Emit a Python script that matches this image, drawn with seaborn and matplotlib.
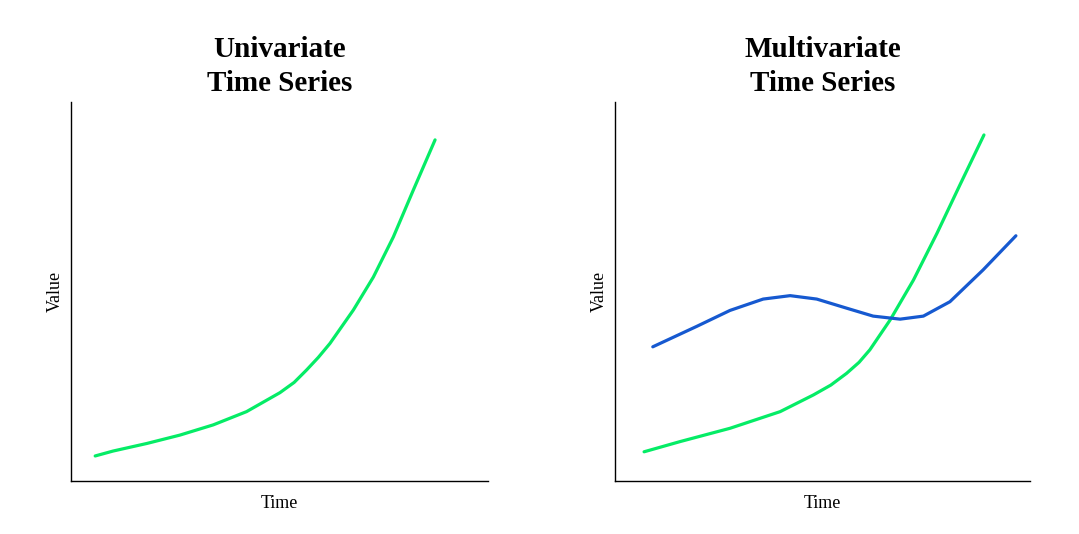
import matplotlib
matplotlib.use("Agg")
import matplotlib.pyplot as plt
import seaborn as sns

sns.set_theme(style="white")
plt.rcParams['font.family'] = ['Liberation Serif', 'DejaVu Serif']
plt.rcParams['text.color'] = 'black'
plt.rcParams['axes.labelcolor'] = 'black'

# Univariate series
uni_time = [0.58, 1.01, 1.82, 2.61, 3.41, 4.21, 5.01, 5.35, 5.65, 5.93, 6.21, 6.77, 7.25, 7.73, 8.21, 8.73]
uni_value = [0.66, 0.79, 0.99, 1.21, 1.48, 1.83, 2.33, 2.60, 2.93, 3.26, 3.63, 4.51, 5.38, 6.44, 7.68, 9.00]

# Multivariate series
multi_time_a = [0.70, 1.57, 2.77, 3.98, 4.78, 5.20, 5.58, 5.88, 6.14, 6.63, 7.19, 7.76, 8.31, 8.89]
multi_value_a = [0.77, 1.04, 1.39, 1.83, 2.27, 2.53, 2.84, 3.13, 3.46, 4.25, 5.30, 6.54, 7.81, 9.13]
multi_time_b = [0.91, 1.97, 2.77, 3.57, 4.22, 4.86, 5.58, 6.22, 6.87, 7.43, 8.07, 8.87, 9.66]
multi_value_b = [3.54, 4.08, 4.50, 4.80, 4.89, 4.80, 4.56, 4.35, 4.27, 4.35, 4.73, 5.57, 6.47]

titles = ["Univariate\nTime Series", "Multivariate\nTime Series"]
GREEN = "#05ec66"
BLUE = "#1659d0"

fig = plt.figure(figsize=(10.79, 5.34), dpi=100)
ax1 = fig.add_axes([0.0658, 0.0993, 0.3865, 0.7097])
ax2 = fig.add_axes([0.570, 0.0993, 0.3846, 0.7097])

sns.lineplot(x=uni_time, y=uni_value, ax=ax1, color=GREEN, linewidth=2.3)
sns.lineplot(x=multi_time_a, y=multi_value_a, ax=ax2, color=GREEN, linewidth=2.3)
sns.lineplot(x=multi_time_b, y=multi_value_b, ax=ax2, color=BLUE, linewidth=2.3)

for ax, t in zip([ax1, ax2], titles):
    ax.set_xlim(0, 10)
    ax.set_ylim(0, 10)
    ax.set_xticks([])
    ax.set_yticks([])
    for s in ["top", "right"]:
        ax.spines[s].set_visible(False)
    for s in ["left", "bottom"]:
        ax.spines[s].set_color("black")
        ax.spines[s].set_linewidth(1.0)
    ax.set_title(t, fontsize=21, fontweight="bold", pad=8, linespacing=1.35, color="black")
    ax.set_xlabel("Time", fontsize=13, labelpad=10)
    ax.set_ylabel("Value", fontsize=13, labelpad=5)

fig.savefig("out.png", dpi=100, facecolor="white")
